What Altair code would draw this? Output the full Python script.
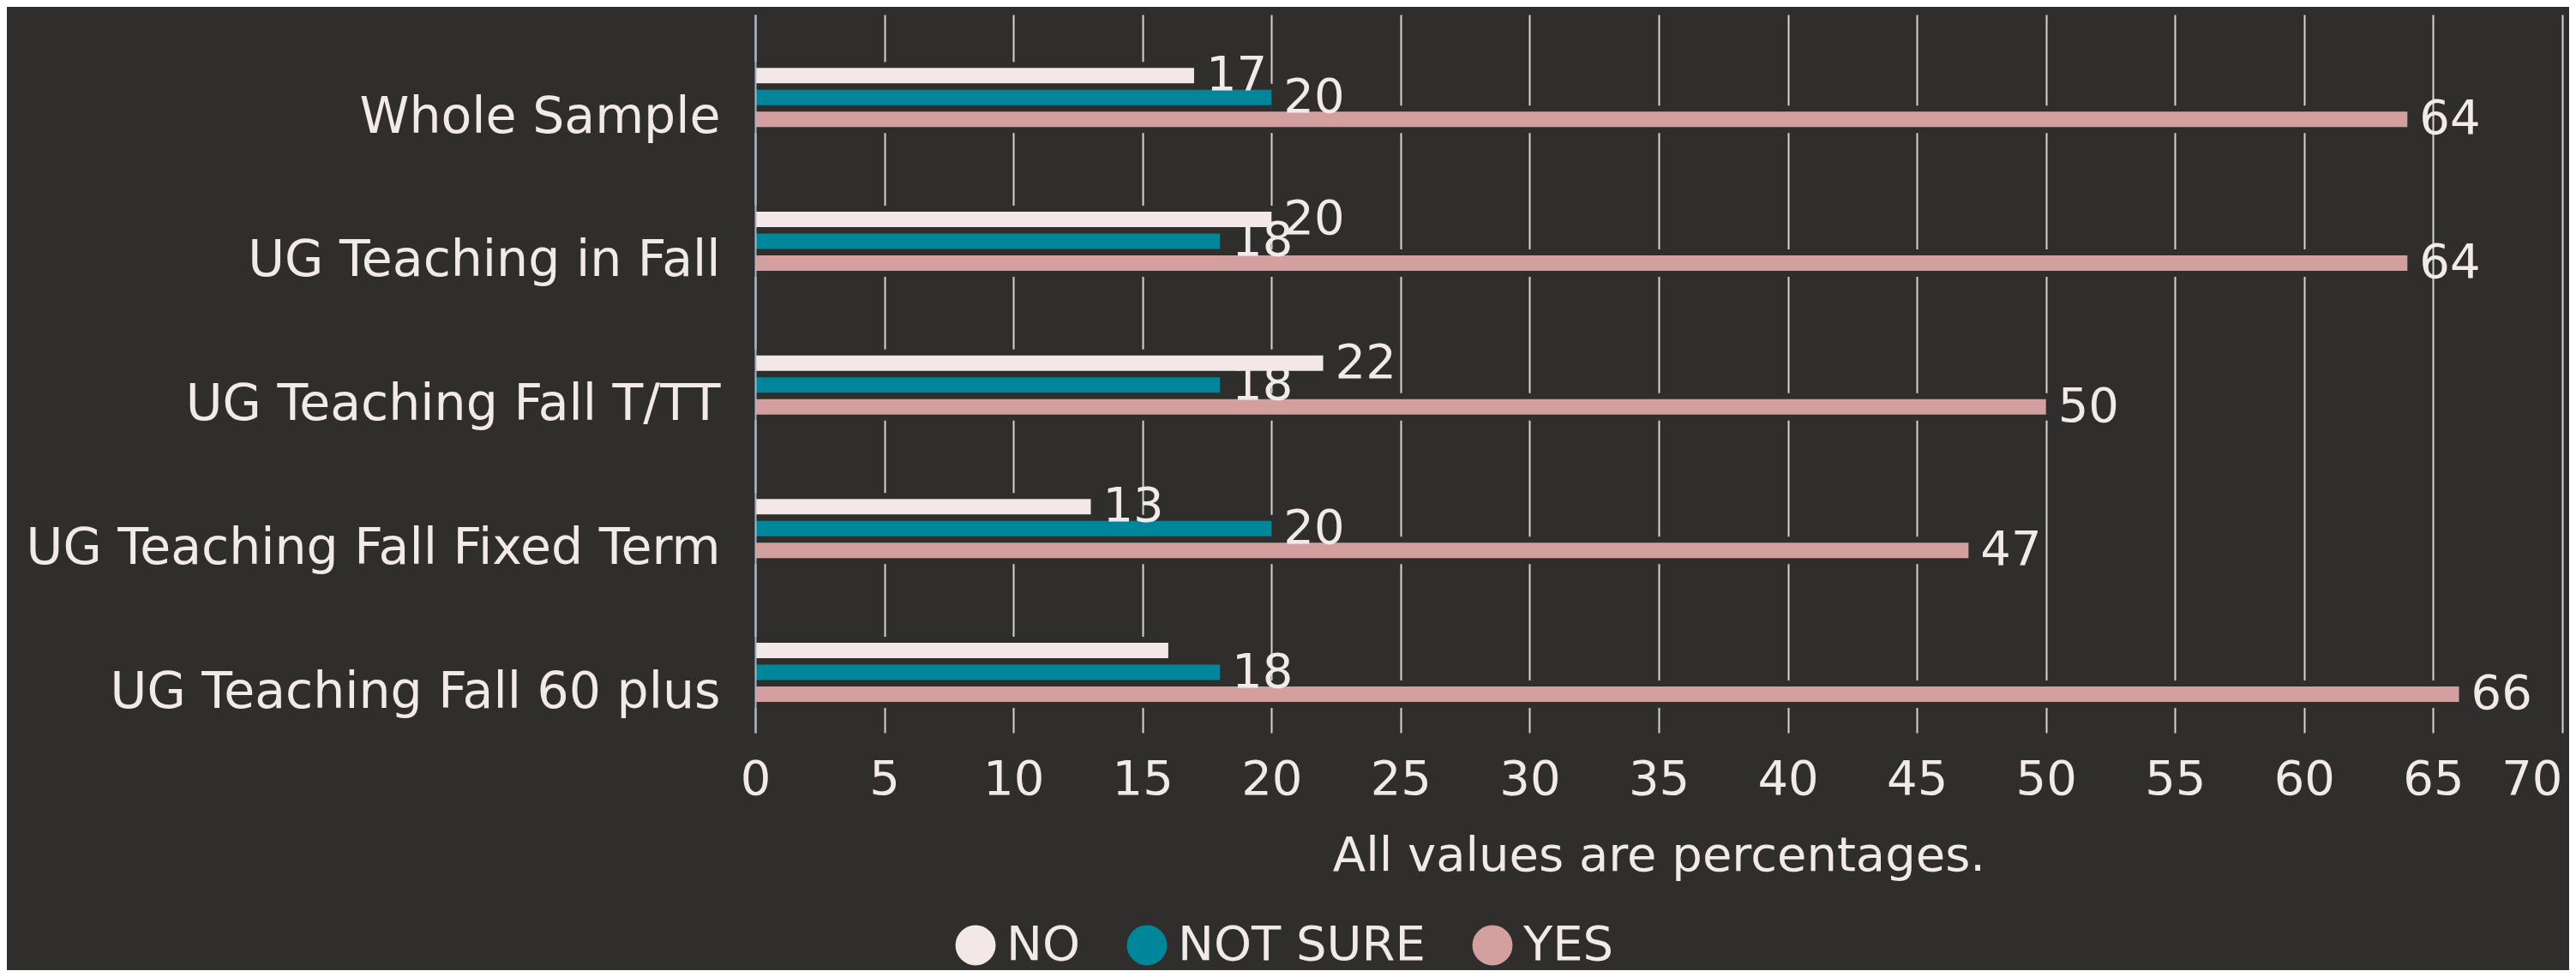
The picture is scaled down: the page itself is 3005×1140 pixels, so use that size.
import altair as alt
import pandas as pd

# ---- data ----
categories = [
    "Whole Sample",
    "UG Teaching in Fall",
    "UG Teaching Fall T/TT",
    "UG Teaching Fall Fixed Term",
    "UG Teaching Fall 60 plus",
]
series = ["NO", "NOT SURE", "YES"]
no_values = [17, 20, 22, 13, 16]
not_sure_values = [20, 18, 18, 20, 18]
yes_values = [64, 64, 50, 47, 66]
series_colors = ["#f3e7e7", "#00869a", "#d4a09f"]
x_ticks = list(range(0, 75, 5))
# value labels that the reference does not show (hidden by overlap)
hidden_labels = [("NO", "UG Teaching Fall 60 plus")]

rows = []
for s, vals in zip(series, [no_values, not_sure_values, yes_values]):
    for c, v in zip(categories, vals):
        rows.append({
            "category": c,
            "series": s,
            "value": v,
            "label": "" if (s, c) in hidden_labels else str(v),
        })
df = pd.DataFrame(rows)

BG = "#2f2e2c"
TXT = "#f2e9e9"
FONT = "DejaVu Sans"
FS = 56

y_enc = alt.Y(
    "category:N",
    sort=categories,
    scale=alt.Scale(paddingInner=0.5438, paddingOuter=0.2705, align=0.645),
    axis=alt.Axis(
        title=None,
        labelFont=FONT,
        labelFontSize=58.5,
        labelColor=TXT,
        labelPadding=41,
        labelOffset=23,
        labelLimit=1000,
        ticks=False,
        tickSize=0,
        grid=False,
        domainColor="#aab5cc",
        domainWidth=2,
        zindex=1,
    ),
)
yoff_enc = alt.YOffset(
    "series:N",
    sort=series,
    scale=alt.Scale(paddingInner=0.02, paddingOuter=0.01),
)
x_enc = alt.X(
    "value:Q",
    scale=alt.Scale(domain=[0, 70], nice=False, zero=True),
    axis=alt.Axis(
        values=x_ticks,
        title="All values are percentages.",
        titleFont=FONT,
        titleFontSize=FS,
        titleFontWeight="normal",
        titleColor=TXT,
        titleBaseline="alphabetic",
        titleY=160,
        labelFont=FONT,
        labelFontSize=FS,
        labelColor=TXT,
        labelPadding=27,
        labelFlush=False,
        labelOverlap=False,
        labelAlign={"condition": {"test": "datum.value == 70", "value": "right"}, "value": "center"},
        ticks=False,
        tickSize=0,
        domain=False,
        grid=True,
        gridColor="#d4d4d4",
        gridWidth=2,
    ),
)
color_enc = alt.Color(
    "series:N",
    sort=series,
    scale=alt.Scale(domain=series, range=series_colors),
    legend=alt.Legend(
        title=None,
        orient="none",
        legendX=229,
        legendY=1058,
        direction="horizontal",
        symbolType="circle",
        symbolSize=2200,
        symbolStrokeWidth=0,
        symbolOpacity=1,
        labelFont=FONT,
        labelFontSize=FS,
        labelColor=TXT,
        labelLimit=800,
        labelOffset=8,
        columnPadding=50,
        padding=0,
    ),
)

bars = alt.Chart(df).mark_bar(
    stroke=BG, strokeWidth=7, xOffset=3.5, x2Offset=-3.5
).encode(
    x=x_enc, x2=alt.datum(0), y=y_enc, yOffset=yoff_enc, color=color_enc
)

texts = alt.Chart(df).mark_text(
    align="left", baseline="middle", dx=14, dy=0,
    font=FONT, fontSize=FS, color=TXT
).encode(
    x=alt.X("value:Q"),
    y=alt.Y("category:N", sort=categories),
    yOffset=alt.YOffset("series:N", sort=series),
    text="label:N",
)

chart = alt.layer(bars, texts).properties(
    width=2108,
    height=838,
    padding={"left": 873, "top": 9, "right": 8, "bottom": 277},
    autosize=alt.AutoSizeParams(type="none"),
    background=BG,
).configure_view(stroke=None)

chart.save("out.html", embed_options={"renderer": "svg", "actions": False})
